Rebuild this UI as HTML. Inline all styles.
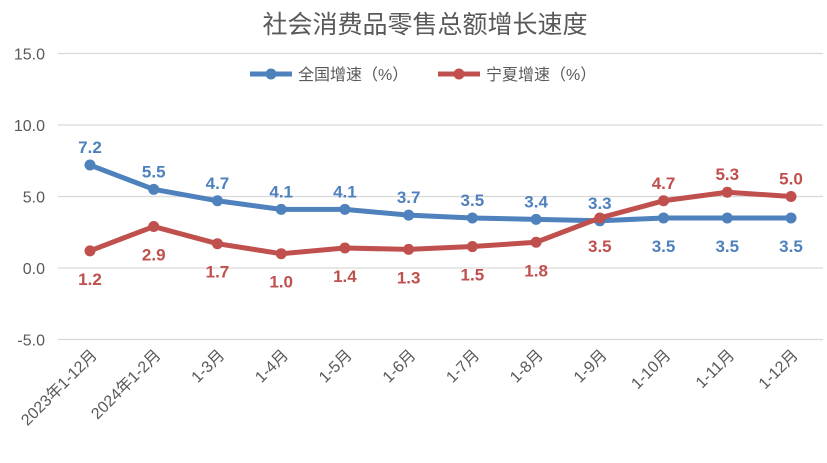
<!DOCTYPE html>
<html><head><meta charset="utf-8"><style>
body{margin:0;background:#fff;}
svg text{font-family:"Liberation Sans","Noto Sans CJK SC",sans-serif;}
</style></head><body>
<svg width="827" height="458" viewBox="0 0 827 458" xmlns="http://www.w3.org/2000/svg">
<text x="425" y="33" text-anchor="middle" font-size="25" fill="#595959">社会消费品零售总额增长速度</text>
<g>
  <g>
    <line x1="250" y1="74" x2="292" y2="74" stroke="#4f81bd" stroke-width="5"/>
    <circle cx="271" cy="74" r="5.5" fill="#4f81bd"/>
    <text x="298" y="80" font-size="16" fill="#595959">全国增速（%）</text>
  </g>
  <g>
    <line x1="438" y1="74" x2="480" y2="74" stroke="#c0504d" stroke-width="5"/>
    <circle cx="459" cy="74" r="5.5" fill="#c0504d"/>
    <text x="486" y="80" font-size="16" fill="#595959">宁夏增速（%）</text>
  </g>
</g>
<g id="grid"></g>
<g id="yaxis"></g>
<g id="xaxis"></g>
<g id="series"></g>
</svg>
<script>
const categories = ["2023年1-12月","2024年1-2月","1-3月","1-4月","1-5月","1-6月","1-7月","1-8月","1-9月","1-10月","1-11月","1-12月"];
const nationalValues = [7.2,5.5,4.7,4.1,4.1,3.7,3.5,3.4,3.3,3.5,3.5,3.5];
const ningxiaValues = [1.2,2.9,1.7,1.0,1.4,1.3,1.5,1.8,3.5,4.7,5.3,5.0];
const yTicks = [-5,0,5,10,15];
const NS = "http://www.w3.org/2000/svg";
const x = i => 90 + i * (791 - 90) / (categories.length - 1);
const y = v => 268 - v * 14.3;
function mk(tag, attrs, parent){const e=document.createElementNS(NS,tag);for(const k in attrs)e.setAttribute(k,attrs[k]);parent.appendChild(e);return e;}
const grid=document.getElementById('grid'), ya=document.getElementById('yaxis'), xa=document.getElementById('xaxis'), ser=document.getElementById('series');
yTicks.forEach(t=>{
  const l=mk('line',{x1:58,x2:823,y1:y(t),y2:y(t),stroke:'#d9d9d9','stroke-width':1.3},grid);
  
  
  const tx=mk('text',{x:45,y:y(t)+6,'text-anchor':'end','font-size':16,fill:'#595959'},ya);
  tx.textContent=t.toFixed(1);
  
  
});
categories.forEach((c,i)=>{
  const px=x(i)+8, py=356;
  const tx=mk('text',{x:px,y:py,'text-anchor':'end','font-size':16,fill:'#595959',transform:`rotate(-45 ${px} ${py})`},xa);
  tx.textContent=c;
  
  
});
function drawSeries(vals,color,name){
  const pts=vals.map((v,i)=>x(i)+','+y(v)).join(' ');
  const pl=mk('polyline',{points:pts,fill:'none',stroke:color,'stroke-width':5,'stroke-linejoin':'round','stroke-linecap':'round'},ser);
  
  
  vals.forEach((v,i)=>{
    const c=mk('circle',{cx:x(i),cy:y(v),r:5.5,fill:color},ser);
    
    
    const above = name==='national' ? i<=8 : i>=9;
    const ly = above ? y(v)-12 : y(v)+34;
    const t=mk('text',{x:x(i),y:ly,'text-anchor':'middle','font-size':17,'font-weight':'bold',fill:color},ser);
    t.textContent=v.toFixed(1);
    
    
  });
}
drawSeries(nationalValues,'#4f81bd','national');
drawSeries(ningxiaValues,'#c0504d','ningxia');
</script>
</body></html>
